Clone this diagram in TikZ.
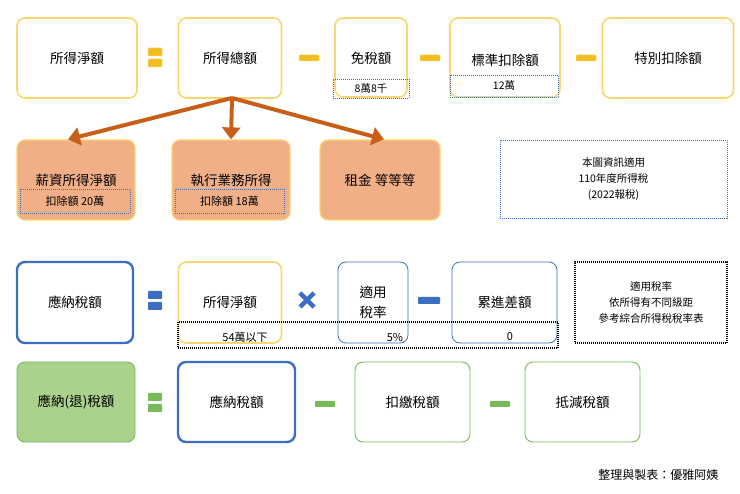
\documentclass[tikz,border=0pt]{standalone}
\usepackage{fontspec}
\setmainfont{Noto Sans CJK TC}
\usetikzlibrary{arrows.meta}
\definecolor{SoftGold}{RGB}{250,215,110}
\definecolor{BarGold}{RGB}{240,190,30}
\definecolor{DeepBlue}{RGB}{60,110,195}
\definecolor{LeafGreen}{RGB}{120,185,90}
\definecolor{PaleGreen}{RGB}{170,210,140}
\definecolor{Salmon}{RGB}{240,175,135}
\definecolor{Rust}{RGB}{200,95,25}
\tikzset{
  box/.style={draw, rounded corners=8pt, align=center, inner sep=0pt, font=\fontsize{13.5}{16}\selectfont},
  goldbox/.style={box, draw=SoftGold, line width=1.6pt},
  bluebox/.style={box, draw=DeepBlue, line width=2.4pt},
  thinblue/.style={box, draw=DeepBlue, line width=0.8pt},
  greenbox/.style={box, draw=LeafGreen, line width=0.9pt},
  orangebox/.style={box, draw=SoftGold, fill=Salmon, line width=1.2pt},
  note/.style={draw, dash pattern=on 1pt off 1pt, align=center, inner sep=0pt, font=\fontsize{10.5}{16}\selectfont},
  bar/.style={rounded corners=0.8pt, line width=0.5pt},
  branch/.style={draw=Rust, line width=4pt, -{Triangle[length=12pt,width=18pt]}}
}
\begin{document}
\begin{tikzpicture}[x=1pt,y=1pt,yscale=-1]
		\useasboundingbox (0,0) rectangle (740,494);

		% First row: net income
		\node[goldbox, minimum width=120pt, minimum height=80pt] (net) at (77,58) {所得淨額};
		\node[goldbox, minimum width=103pt, minimum height=80pt] (gross) at (230,58) {所得總額};
		\node[goldbox, minimum width=72pt, minimum height=79pt] (exempt) at (371,57.5) {};
		\node[goldbox, minimum width=110pt, minimum height=79pt] (std) at (505,57.5) {};
		\node[goldbox, minimum width=131pt, minimum height=80pt] (special) at (668,58) {特別扣除額};
		\node[font=\fontsize{13.5}{16}\selectfont] (exempttitle) at (371,58) {免稅額};
		\node[font=\fontsize{13.5}{16}\selectfont] (stdtitle) at (505,60) {標準扣除額};
		\node[note, draw=DeepBlue, minimum width=76pt, minimum height=19pt] (exemptval) at (371,88.5) {8萬8千};
		\node[note, draw=DeepBlue, minimum width=108pt, minimum height=22pt] (stdval) at (504,86) {12萬};

		% Operators of the first row
		\foreach \y in {52,63} \fill[BarGold, draw=SoftGold, bar] (148,\y-4) rectangle (162,\y+4);
		\foreach \x in {309,430,586} \fill[BarGold, draw=SoftGold, bar] (\x-10,55) rectangle (\x+10,61);

		% Second row: income sources
		\node[orangebox, minimum width=118pt, minimum height=80pt] (salary) at (76,180) {};
		\node[orangebox, minimum width=118pt, minimum height=80pt] (business) at (231,180) {};
		\node[orangebox, minimum width=120pt, minimum height=80pt] (rent) at (380,180) {租金 等等等};
		\node[font=\fontsize{13.5}{16}\selectfont] (salarytitle) at (76,180) {薪資所得淨額};
		\node[font=\fontsize{13.5}{16}\selectfont] (businesstitle) at (231,180) {執行業務所得};
		\node[note, draw=DeepBlue, minimum width=110pt, minimum height=24pt, font=\fontsize{11}{12}\selectfont] (salaryval) at (75,201) {扣除額 20萬};
		\node[note, draw=DeepBlue, minimum width=109pt, minimum height=24pt, font=\fontsize{11}{12}\selectfont] (businessval) at (229.5,201) {扣除額 18萬};
		\node[note, draw=DeepBlue, minimum width=227pt, minimum height=78pt] (info) at (613.5,179) {本圖資訊適用\\110年度所得稅\\(2022報稅)};

		\coordinate (fork) at (232,98);
		\draw[branch] (fork) -- ([xshift=-8pt]salary.north);
		\draw[branch] (fork) -- (business.north);
		\draw[branch] (fork) -- ([xshift=4pt]rent.north);

		% Third row: tax payable
		\node[bluebox, minimum width=116pt, minimum height=81pt] (payable) at (75,302.5) {應納稅額};
		\node[goldbox, minimum width=103pt, minimum height=81pt] (net2) at (230,302.5) {所得淨額};
		\node[thinblue, minimum width=70pt, minimum height=81pt] (rate) at (373,302.5) {\shortstack{適用\\[5pt]稅率}};
		\node[thinblue, minimum width=105pt, minimum height=81pt] (progress) at (504.5,302.5) {累進差額};
		\node[note, line width=1.3pt, minimum width=152pt, minimum height=81pt] (ratenote) at (651,302.5) {適用稅率\\依所得有不同級距\\參考綜合所得稅稅率表};
		\node[note, line width=1.3pt, minimum width=380pt, minimum height=26pt] (bracket) at (368,335) {};
		\node[font=\fontsize{11}{12}\selectfont] (bracketa) at (245,337) {54萬以下};
		\node[font=\fontsize{11}{12}\selectfont] (bracketb) at (395,337) {5\%};
		\node[font=\fontsize{11}{12}\selectfont] (bracketc) at (510,337) {0};

		% Operators of the third row
		\foreach \y in {295,306} \fill[DeepBlue, bar] (148,\y-4) rectangle (162,\y+4);
		\coordinate (times) at (307,300);
		\draw[DeepBlue, line width=4.5pt] ([shift={(-7,-7)}]times) -- ([shift={(7,7)}]times) ([shift={(-7,7)}]times) -- ([shift={(7,-7)}]times);
		\fill[DeepBlue, bar] (418,297) rectangle (440,304);

		% Fourth row: tax due or refund
		\node[greenbox, fill=PaleGreen, minimum width=118pt, minimum height=80pt] (due) at (76,402) {應納(退)稅額};
		\node[bluebox, minimum width=117pt, minimum height=80pt] (payable2) at (236.5,402) {應納稅額};
		\node[greenbox, minimum width=115pt, minimum height=80pt] (withheld) at (412.5,402) {扣繳稅額};
		\node[greenbox, minimum width=115pt, minimum height=80pt] (credit) at (582.5,402) {抵減稅額};

		% Operators of the fourth row
		\foreach \y in {397,408} \fill[LeafGreen, bar] (148,\y-4) rectangle (162,\y+4);
		\foreach \x in {325,500} \fill[LeafGreen, bar] (\x-10,401) rectangle (\x+10,407);

		\node[anchor=east, font=\fontsize{12}{13}\selectfont] (author) at (722,475) {整理與製表：優雅阿姨};
	\end{tikzpicture}
\end{document}
